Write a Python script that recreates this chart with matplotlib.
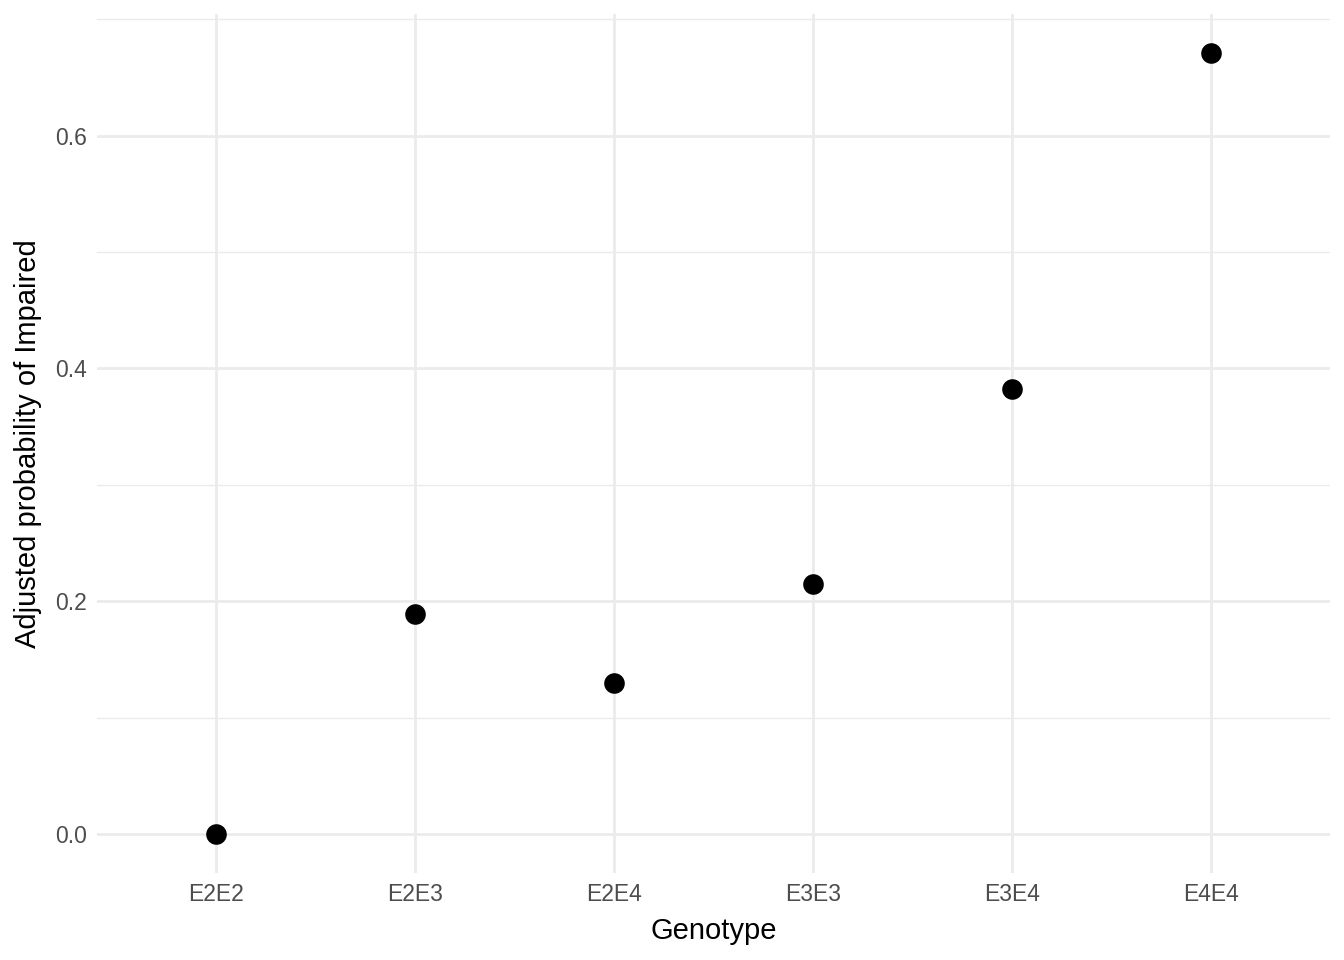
import matplotlib
matplotlib.use('Agg')
import matplotlib.pyplot as plt
from matplotlib.ticker import MultipleLocator

# data
genotypes = ['E2E2', 'E2E3', 'E2E4', 'E3E3', 'E3E4', 'E4E4']
prob = [0.0, 0.189, 0.130, 0.215, 0.382, 0.671]

plt.rcParams['font.family'] = ['Liberation Sans', 'DejaVu Sans']

fig = plt.figure(figsize=(13.44, 9.6), dpi=100)
ax = fig.add_axes([0.0722, 0.0906, 0.9174, 0.8948])

x = list(range(len(genotypes)))
ax.scatter(x, prob, s=220, color='black', zorder=3, linewidths=0)

ax.set_xlim(-0.6, len(genotypes) - 0.4)
lo, hi = min(prob), max(prob)
pad = (hi - lo) * 0.05
ax.set_ylim(lo - pad, hi + pad)

ax.set_xticks(x)
ax.set_xticklabels(genotypes)
ax.yaxis.set_major_locator(MultipleLocator(0.2))
ax.yaxis.set_minor_locator(MultipleLocator(0.1))
ax.set_yticks([0.0, 0.2, 0.4, 0.6])
ax.set_yticklabels(['0.0', '0.2', '0.4', '0.6'])

ax.grid(which='major', color='#EBEBEB', linewidth=2.0, zorder=0)
ax.grid(which='minor', axis='y', color='#EBEBEB', linewidth=1.0, zorder=0)
ax.set_axisbelow(True)

for s in ax.spines.values():
    s.set_visible(False)
ax.tick_params(which='both', length=0)
ax.tick_params(axis='both', labelsize=16.5, colors='#4D4D4D', pad=7)

ax.set_xlabel('Genotype', fontsize=21, labelpad=8)
ax.set_ylabel('Adjusted probability of Impaired', fontsize=21, labelpad=10)

fig.savefig('out.png', dpi=100)
